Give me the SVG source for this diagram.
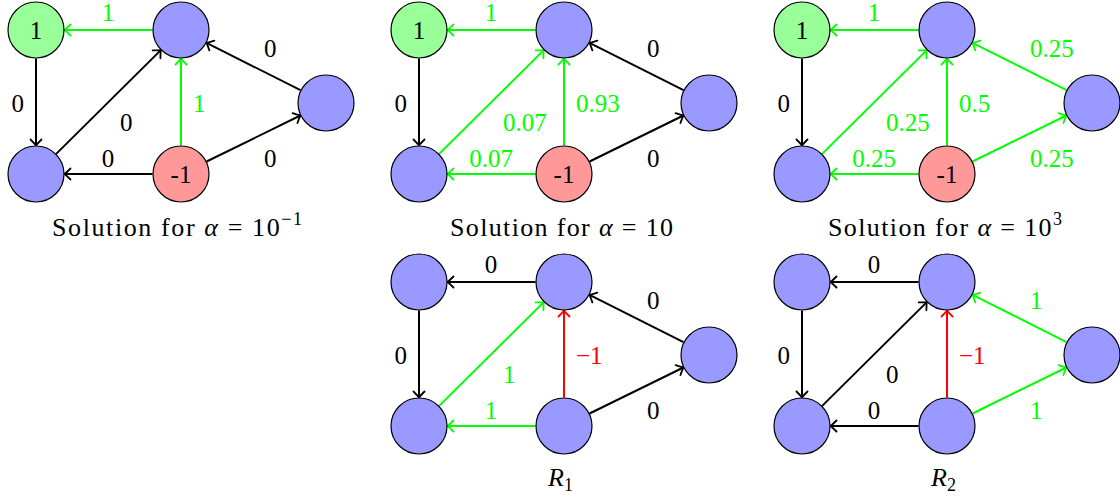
<svg xmlns="http://www.w3.org/2000/svg" width="1120" height="497" viewBox="0 0 1120 497">
<defs>
<marker id="ak" markerUnits="userSpaceOnUse" refX="0" refY="0" markerWidth="14" markerHeight="14" orient="auto" overflow="visible"><path d="M-6,-5.5 Q-2,-1.5 0,0 Q-2,1.5 -6,5.5" fill="none" stroke="#000" stroke-width="1.8" stroke-linecap="round"/></marker>
<marker id="ag" markerUnits="userSpaceOnUse" refX="0" refY="0" markerWidth="14" markerHeight="14" orient="auto" overflow="visible"><path d="M-6,-5.5 Q-2,-1.5 0,0 Q-2,1.5 -6,5.5" fill="none" stroke="#00FF00" stroke-width="1.8" stroke-linecap="round"/></marker>
<marker id="ar" markerUnits="userSpaceOnUse" refX="0" refY="0" markerWidth="14" markerHeight="14" orient="auto" overflow="visible"><path d="M-6,-5.5 Q-2,-1.5 0,0 Q-2,1.5 -6,5.5" fill="none" stroke="#FF0000" stroke-width="1.8" stroke-linecap="round"/></marker>
</defs>

<!-- Panel 1: alpha = 10^-1 -->
<g id="panel1">
<g id="p1-connectors" fill="none" stroke-width="2">
<line stroke="#00FF00" marker-end="url(#ag)" x1="152.5" y1="30" x2="64.5" y2="30"/>
<line stroke="#000" marker-end="url(#ak)" x1="36" y1="58.5" x2="36" y2="145.5"/>
<line stroke="#000" marker-end="url(#ak)" x1="56.2" y1="153.9" x2="160.8" y2="50.1"/>
<line stroke="#00FF00" marker-end="url(#ag)" x1="181" y1="145.5" x2="181" y2="58.5"/>
<line stroke="#000" marker-end="url(#ak)" x1="300.5" y1="90.2" x2="206.5" y2="42.8"/>
<line stroke="#000" marker-end="url(#ak)" x1="152.5" y1="174" x2="64.5" y2="174"/>
<line stroke="#000" marker-end="url(#ak)" x1="206.6" y1="161.5" x2="300.4" y2="115.5"/>
</g>
<g id="p1-labels">
<text font-family="Liberation Serif" font-size="25" fill="#00FF00" text-anchor="middle" x="108" y="20.5">1</text>
<text font-family="Liberation Serif" font-size="25" fill="#000" text-anchor="end" x="24" y="112">0</text>
<text font-family="Liberation Serif" font-size="25" fill="#000" x="120" y="130.5">0</text>
<text font-family="Liberation Serif" font-size="25" fill="#00FF00" x="193" y="111.5">1</text>
<text font-family="Liberation Serif" font-size="25" fill="#000" x="264" y="57">0</text>
<text font-family="Liberation Serif" font-size="25" fill="#000" text-anchor="middle" x="108" y="166.5">0</text>
<text font-family="Liberation Serif" font-size="25" fill="#000" x="264" y="167">0</text>
</g>
<g id="p1-a"><circle fill="#99FF99" stroke="#000" stroke-width="1.2" cx="36" cy="30" r="28"/><text font-family="Liberation Serif" font-size="25" text-anchor="middle" x="36" y="38.5">1</text></g>
<g id="p1-b"><circle fill="#9999FF" stroke="#000" stroke-width="1.2" cx="181" cy="30" r="28"/></g>
<g id="p1-c"><circle fill="#9999FF" stroke="#000" stroke-width="1.2" cx="326" cy="103" r="28"/></g>
<g id="p1-d"><circle fill="#9999FF" stroke="#000" stroke-width="1.2" cx="36" cy="174" r="28"/></g>
<g id="p1-e"><circle fill="#FF9999" stroke="#000" stroke-width="1.2" cx="181" cy="174" r="28"/><text font-family="Liberation Serif" font-size="25" text-anchor="middle" x="181" y="182.5">-1</text></g>
</g>

<!-- Panel 2: alpha = 10 -->
<g id="panel2" transform="translate(383,0)">
<g id="p2-connectors" fill="none" stroke-width="2">
<line stroke="#00FF00" marker-end="url(#ag)" x1="152.5" y1="30" x2="64.5" y2="30"/>
<line stroke="#000" marker-end="url(#ak)" x1="36" y1="58.5" x2="36" y2="145.5"/>
<line stroke="#00FF00" marker-end="url(#ag)" x1="56.2" y1="153.9" x2="160.8" y2="50.1"/>
<line stroke="#00FF00" marker-end="url(#ag)" x1="181" y1="145.5" x2="181" y2="58.5"/>
<line stroke="#000" marker-end="url(#ak)" x1="300.5" y1="90.2" x2="206.5" y2="42.8"/>
<line stroke="#00FF00" marker-end="url(#ag)" x1="152.5" y1="174" x2="64.5" y2="174"/>
<line stroke="#000" marker-end="url(#ak)" x1="206.6" y1="161.5" x2="300.4" y2="115.5"/>
</g>
<g id="p2-labels">
<text font-family="Liberation Serif" font-size="25" fill="#00FF00" text-anchor="middle" x="108" y="20.5">1</text>
<text font-family="Liberation Serif" font-size="25" fill="#000" text-anchor="end" x="24" y="112">0</text>
<text font-family="Liberation Serif" font-size="25" fill="#00FF00" x="120" y="130.5">0.07</text>
<text font-family="Liberation Serif" font-size="25" fill="#00FF00" x="193" y="111.5">0.93</text>
<text font-family="Liberation Serif" font-size="25" fill="#000" x="264" y="57">0</text>
<text font-family="Liberation Serif" font-size="25" fill="#00FF00" text-anchor="middle" x="108" y="166.5">0.07</text>
<text font-family="Liberation Serif" font-size="25" fill="#000" x="264" y="167">0</text>
</g>
<g id="p2-a"><circle fill="#99FF99" stroke="#000" stroke-width="1.2" cx="36" cy="30" r="28"/><text font-family="Liberation Serif" font-size="25" text-anchor="middle" x="36" y="38.5">1</text></g>
<g id="p2-b"><circle fill="#9999FF" stroke="#000" stroke-width="1.2" cx="181" cy="30" r="28"/></g>
<g id="p2-c"><circle fill="#9999FF" stroke="#000" stroke-width="1.2" cx="326" cy="103" r="28"/></g>
<g id="p2-d"><circle fill="#9999FF" stroke="#000" stroke-width="1.2" cx="36" cy="174" r="28"/></g>
<g id="p2-e"><circle fill="#FF9999" stroke="#000" stroke-width="1.2" cx="181" cy="174" r="28"/><text font-family="Liberation Serif" font-size="25" text-anchor="middle" x="181" y="182.5">-1</text></g>
</g>

<!-- Panel 3: alpha = 10^3 -->
<g id="panel3" transform="translate(766,0)">
<g id="p3-connectors" fill="none" stroke-width="2">
<line stroke="#00FF00" marker-end="url(#ag)" x1="152.5" y1="30" x2="64.5" y2="30"/>
<line stroke="#000" marker-end="url(#ak)" x1="36" y1="58.5" x2="36" y2="145.5"/>
<line stroke="#00FF00" marker-end="url(#ag)" x1="56.2" y1="153.9" x2="160.8" y2="50.1"/>
<line stroke="#00FF00" marker-end="url(#ag)" x1="181" y1="145.5" x2="181" y2="58.5"/>
<line stroke="#00FF00" marker-end="url(#ag)" x1="300.5" y1="90.2" x2="206.5" y2="42.8"/>
<line stroke="#00FF00" marker-end="url(#ag)" x1="152.5" y1="174" x2="64.5" y2="174"/>
<line stroke="#00FF00" marker-end="url(#ag)" x1="206.6" y1="161.5" x2="300.4" y2="115.5"/>
</g>
<g id="p3-labels">
<text font-family="Liberation Serif" font-size="25" fill="#00FF00" text-anchor="middle" x="108" y="20.5">1</text>
<text font-family="Liberation Serif" font-size="25" fill="#000" text-anchor="end" x="24" y="112">0</text>
<text font-family="Liberation Serif" font-size="25" fill="#00FF00" x="120" y="130.5">0.25</text>
<text font-family="Liberation Serif" font-size="25" fill="#00FF00" x="193" y="111.5">0.5</text>
<text font-family="Liberation Serif" font-size="25" fill="#00FF00" x="264" y="57">0.25</text>
<text font-family="Liberation Serif" font-size="25" fill="#00FF00" text-anchor="middle" x="108" y="166.5">0.25</text>
<text font-family="Liberation Serif" font-size="25" fill="#00FF00" x="264" y="167">0.25</text>
</g>
<g id="p3-a"><circle fill="#99FF99" stroke="#000" stroke-width="1.2" cx="36" cy="30" r="28"/><text font-family="Liberation Serif" font-size="25" text-anchor="middle" x="36" y="38.5">1</text></g>
<g id="p3-b"><circle fill="#9999FF" stroke="#000" stroke-width="1.2" cx="181" cy="30" r="28"/></g>
<g id="p3-c"><circle fill="#9999FF" stroke="#000" stroke-width="1.2" cx="326" cy="103" r="28"/></g>
<g id="p3-d"><circle fill="#9999FF" stroke="#000" stroke-width="1.2" cx="36" cy="174" r="28"/></g>
<g id="p3-e"><circle fill="#FF9999" stroke="#000" stroke-width="1.2" cx="181" cy="174" r="28"/><text font-family="Liberation Serif" font-size="25" text-anchor="middle" x="181" y="182.5">-1</text></g>
</g>

<!-- Panel R1 -->
<g id="panelR1" transform="translate(383,252)">
<g id="r1-connectors" fill="none" stroke-width="2">
<line stroke="#000" marker-end="url(#ak)" x1="152.5" y1="30" x2="64.5" y2="30"/>
<line stroke="#000" marker-end="url(#ak)" x1="36" y1="58.5" x2="36" y2="145.5"/>
<line stroke="#00FF00" marker-end="url(#ag)" x1="56.2" y1="153.9" x2="160.8" y2="50.1"/>
<line stroke="#FF0000" marker-end="url(#ar)" x1="181" y1="145.5" x2="181" y2="58.5"/>
<line stroke="#000" marker-end="url(#ak)" x1="300.5" y1="90.2" x2="206.5" y2="42.8"/>
<line stroke="#00FF00" marker-end="url(#ag)" x1="152.5" y1="174" x2="64.5" y2="174"/>
<line stroke="#000" marker-end="url(#ak)" x1="206.6" y1="161.5" x2="300.4" y2="115.5"/>
</g>
<g id="r1-labels">
<text font-family="Liberation Serif" font-size="25" fill="#000" text-anchor="middle" x="108" y="20.5">0</text>
<text font-family="Liberation Serif" font-size="25" fill="#000" text-anchor="end" x="24" y="112">0</text>
<text font-family="Liberation Serif" font-size="25" fill="#00FF00" x="120" y="130.5">1</text>
<text font-family="Liberation Serif" font-size="25" fill="#FF0000" x="193" y="111.5">−1</text>
<text font-family="Liberation Serif" font-size="25" fill="#000" x="264" y="57">0</text>
<text font-family="Liberation Serif" font-size="25" fill="#00FF00" text-anchor="middle" x="108" y="166.5">1</text>
<text font-family="Liberation Serif" font-size="25" fill="#000" x="264" y="167">0</text>
</g>
<g id="r1-a"><circle fill="#9999FF" stroke="#000" stroke-width="1.2" cx="36" cy="30" r="28"/></g>
<g id="r1-b"><circle fill="#9999FF" stroke="#000" stroke-width="1.2" cx="181" cy="30" r="28"/></g>
<g id="r1-c"><circle fill="#9999FF" stroke="#000" stroke-width="1.2" cx="326" cy="103" r="28"/></g>
<g id="r1-d"><circle fill="#9999FF" stroke="#000" stroke-width="1.2" cx="36" cy="174" r="28"/></g>
<g id="r1-e"><circle fill="#9999FF" stroke="#000" stroke-width="1.2" cx="181" cy="174" r="28"/></g>
</g>

<!-- Panel R2 -->
<g id="panelR2" transform="translate(766,252)">
<g id="r2-connectors" fill="none" stroke-width="2">
<line stroke="#000" marker-end="url(#ak)" x1="152.5" y1="30" x2="64.5" y2="30"/>
<line stroke="#000" marker-end="url(#ak)" x1="36" y1="58.5" x2="36" y2="145.5"/>
<line stroke="#000" marker-end="url(#ak)" x1="56.2" y1="153.9" x2="160.8" y2="50.1"/>
<line stroke="#FF0000" marker-end="url(#ar)" x1="181" y1="145.5" x2="181" y2="58.5"/>
<line stroke="#00FF00" marker-end="url(#ag)" x1="300.5" y1="90.2" x2="206.5" y2="42.8"/>
<line stroke="#000" marker-end="url(#ak)" x1="152.5" y1="174" x2="64.5" y2="174"/>
<line stroke="#00FF00" marker-end="url(#ag)" x1="206.6" y1="161.5" x2="300.4" y2="115.5"/>
</g>
<g id="r2-labels">
<text font-family="Liberation Serif" font-size="25" fill="#000" text-anchor="middle" x="108" y="20.5">0</text>
<text font-family="Liberation Serif" font-size="25" fill="#000" text-anchor="end" x="24" y="112">0</text>
<text font-family="Liberation Serif" font-size="25" fill="#000" x="120" y="130.5">0</text>
<text font-family="Liberation Serif" font-size="25" fill="#FF0000" x="193" y="111.5">−1</text>
<text font-family="Liberation Serif" font-size="25" fill="#00FF00" x="264" y="57">1</text>
<text font-family="Liberation Serif" font-size="25" fill="#000" text-anchor="middle" x="108" y="166.5">0</text>
<text font-family="Liberation Serif" font-size="25" fill="#00FF00" x="264" y="167">1</text>
</g>
<g id="r2-a"><circle fill="#9999FF" stroke="#000" stroke-width="1.2" cx="36" cy="30" r="28"/></g>
<g id="r2-b"><circle fill="#9999FF" stroke="#000" stroke-width="1.2" cx="181" cy="30" r="28"/></g>
<g id="r2-c"><circle fill="#9999FF" stroke="#000" stroke-width="1.2" cx="326" cy="103" r="28"/></g>
<g id="r2-d"><circle fill="#9999FF" stroke="#000" stroke-width="1.2" cx="36" cy="174" r="28"/></g>
<g id="r2-e"><circle fill="#9999FF" stroke="#000" stroke-width="1.2" cx="181" cy="174" r="28"/></g>
</g>

<!-- Captions -->
<g id="captions">
<text font-family="Liberation Serif" font-size="26" x="52" y="236" textLength="250">Solution for <tspan font-style="italic">α</tspan> = 10<tspan font-size="18" dy="-11">−1</tspan></text>
<text font-family="Liberation Serif" font-size="26" x="450" y="236" textLength="223">Solution for <tspan font-style="italic">α</tspan> = 10</text>
<text font-family="Liberation Serif" font-size="26" x="828" y="236" textLength="234">Solution for <tspan font-style="italic">α</tspan> = 10<tspan font-size="18" dy="-11">3</tspan></text>
<text font-family="Liberation Serif" font-size="26" x="548" y="486"><tspan font-style="italic">R</tspan><tspan font-size="18" dy="5">1</tspan></text>
<text font-family="Liberation Serif" font-size="26" x="931" y="486"><tspan font-style="italic">R</tspan><tspan font-size="18" dy="5">2</tspan></text>
</g>
</svg>
